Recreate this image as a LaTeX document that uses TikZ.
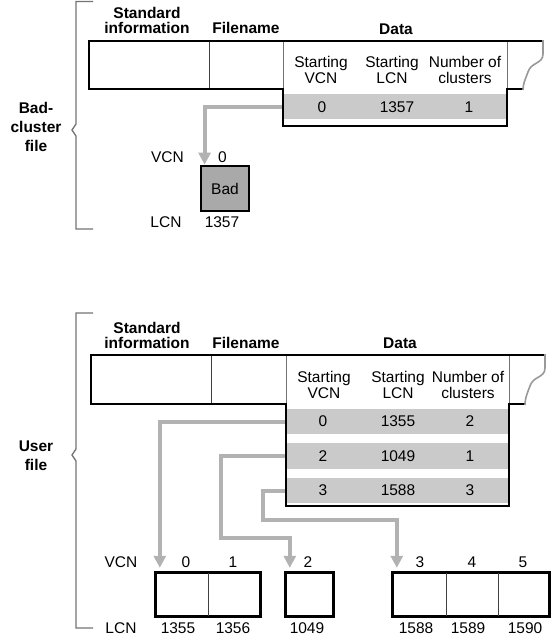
\documentclass[tikz,border=0pt]{standalone}
\usepackage{fontspec}
\setmainfont{Liberation Sans}
\usetikzlibrary{arrows.meta}

\definecolor{rowgray}{HTML}{CACACA}
\definecolor{ptrgray}{HTML}{B2B2B2}
\definecolor{badgray}{HTML}{A9A9A9}

\begin{document}
\begin{tikzpicture}[x=1pt, y=-1pt,
  txt/.style={font=\fontsize{15.5}{16}\selectfont, inner sep=0pt, align=center},
  hdr/.style={font=\fontsize{15.5}{15}\selectfont\bfseries, inner sep=0pt, align=center},
  side/.style={font=\fontsize{15.5}{19}\selectfont\bfseries, inner sep=0pt, align=center},
  rowbar/.style={fill=rowgray, minimum width=224, minimum height=25, inner sep=0pt},
  cell/.style={minimum height=43, inner sep=0pt},
  recline/.style={line width=2.8pt},
  sepline/.style={line width=0.9pt, black!75},
  brace/.style={line width=1.3pt, black!55},
  torn/.style={line width=1.6pt, black!40},
  ptr/.style={draw=ptrgray, line width=4pt, -{Triangle[width=12pt,length=12pt]}}]
\useasboundingbox (0,0) rectangle (551,640);
%%%%%%%%%%%%%%%%%%%%%%%%%%%%%%%
% bad-cluster file
%%%%%%%%%%%%%%%%%%%%%%%%%%%%%%%
\draw [brace] (93,1.5) -- (76,1.5) -- (76,124) -- (72,130) -- (76,136) -- (76,229) -- (93,229);
\node [side] (bc) at (36,127) {Bad-\\cluster\\file};
%
\node [hdr] (si1) at (147,20.5) {Standard\\information};
\node [hdr] (fn1) at (246,28) {Filename};
\node [hdr] (dt1) at (396,29) {Data};
\node [txt] (sv1) at (321,70) {Starting\\VCN};
\node [txt] (sl1) at (392,70) {Starting\\LCN};
\node [txt] (nc1) at (465,70) {Number of\\clusters};
%
\node [rowbar] (b0) at (395,106.5) {};
\node [txt] at (322,107) {0};
\node [txt] at (397,107) {1357};
\node [txt] at (469,107) {1};
%
\node [cell, minimum width=48, minimum height=45, fill=badgray, draw, recline, font=\fontsize{15.5}{16}\selectfont] (bad) at (225,188.5) {Bad};
\draw [ptr] (b0.west) -| ([xshift=5pt]bad.north west);
%
\draw [sepline] (209,41) -- (209,89);
\draw [sepline, black!55] (283,41) -- (283,89);
\draw [sepline, black!55] (507,41) -- (507,89);
\draw [recline] (543,41) -- (89,41) -- (89,89) -- (283,89) -- (283,126) -- (507,126) -- (507,89) -- (523,89);
\draw [torn] (543,40) -- (543,54) .. controls (543,64) and (531,62) .. (528,72) .. controls (525,80) and (523,84) .. (523,90);
%
\node [txt] (vcn1) at (167.5,157) {VCN};
\node [txt] at (222.5,157) {0};
\node [txt] (lcn1) at (166,222) {LCN};
\node [txt] at (222,222) {1357};
%%%%%%%%%%%%%%%%%%%%%%%%%%%%%%%
% user file
%%%%%%%%%%%%%%%%%%%%%%%%%%%%%%%
\draw [brace] (93,313) -- (76,313) -- (76,449) -- (72,455) -- (76,461) -- (76,628) -- (93,628);
\node [side] (uf) at (36,455.5) {User\\file};
%
\node [hdr] (si2) at (147,335) {Standard\\information};
\node [hdr] (fn2) at (246,343) {Filename};
\node [hdr] (dt2) at (400,343) {Data};
\node [txt] (sv2) at (324,385) {Starting\\VCN};
\node [txt] (sl2) at (398,385) {Starting\\LCN};
\node [txt] (nc2) at (468,385) {Number of\\clusters};
%
\node [rowbar, minimum width=223] (r1) at (397.5,421.5) {};
\node [rowbar, minimum width=223, minimum height=26] (r2) at (397.5,456) {};
\node [rowbar, minimum width=223] (r3) at (397.5,490.5) {};
\node [txt] at (323,421.5) {0};
\node [txt] at (398,421.5) {1355};
\node [txt] at (470,421.5) {2};
\node [txt] at (323,456) {2};
\node [txt] at (398,456) {1049};
\node [txt] at (470,456) {1};
\node [txt] at (323,490.5) {3};
\node [txt] at (398,490.5) {1588};
\node [txt] at (470,490.5) {3};
%
\node [cell, minimum width=52] (c0) at (182,594.5) {};
\node [cell, minimum width=52] (c1) at (234,594.5) {};
\node [cell, minimum width=47] (c2) at (309.5,594.5) {};
\node [cell, minimum width=53] (c3) at (419.5,594.5) {};
\node [cell, minimum width=52] (c4) at (472,594.5) {};
\node [cell, minimum width=51.5] (c5) at (523.75,594.5) {};
%
\coordinate (bend2) at (221,538);
\coordinate (bend3) at (263,520);
\draw [ptr, shorten >=5pt] (r1.west) -| ([xshift=4pt]c0.north west);
\draw [ptr, shorten >=5pt] (r2.west) -| (bend2) -| ([xshift=4pt]c2.north west);
\draw [ptr, shorten >=5pt] (r3.west) -| (bend3) -| ([xshift=4pt]c3.north west);
%
\draw [sepline] (211,355) -- (211,404);
\draw [sepline, black!55] (286,355) -- (286,404);
\draw [sepline, black!55] (509,355) -- (509,404);
\draw [recline] (545,355) -- (91,355) -- (91,404) -- (286,404) -- (286,506) -- (509,506) -- (509,404) -- (525,404);
\draw [torn] (545,354) -- (545,368) .. controls (545,378) and (533,376) .. (530,386) .. controls (527,394) and (525,398) .. (525,405);
%
\draw [recline] (c0.north west) rectangle (c1.south east);
\draw [sepline] (c0.north east) -- (c0.south east);
\draw [recline] (c2.north west) rectangle (c2.south east);
\draw [recline] (c3.north west) rectangle (c5.south east);
\draw [sepline] (c3.north east) -- (c3.south east);
\draw [sepline] (c4.north east) -- (c4.south east);
%
\node [txt] (vcn2) at (121,562) {VCN};
\node [txt] at (186,562) {0};
\node [txt] at (233,562) {1};
\node [txt] at (308,562) {2};
\node [txt] at (420,562) {3};
\node [txt] at (472,562) {4};
\node [txt] at (523,562) {5};
\node [txt] (lcn2) at (121,628) {LCN};
\node [txt] at (178,628) {1355};
\node [txt] at (233,628) {1356};
\node [txt] at (307,628) {1049};
\node [txt] at (416,628) {1588};
\node [txt] at (468,628) {1589};
\node [txt] at (525,628) {1590};
%%%%%%%%%%%%%%%%%%%%%%%%%%%%%%%
\end{tikzpicture}
\end{document}
